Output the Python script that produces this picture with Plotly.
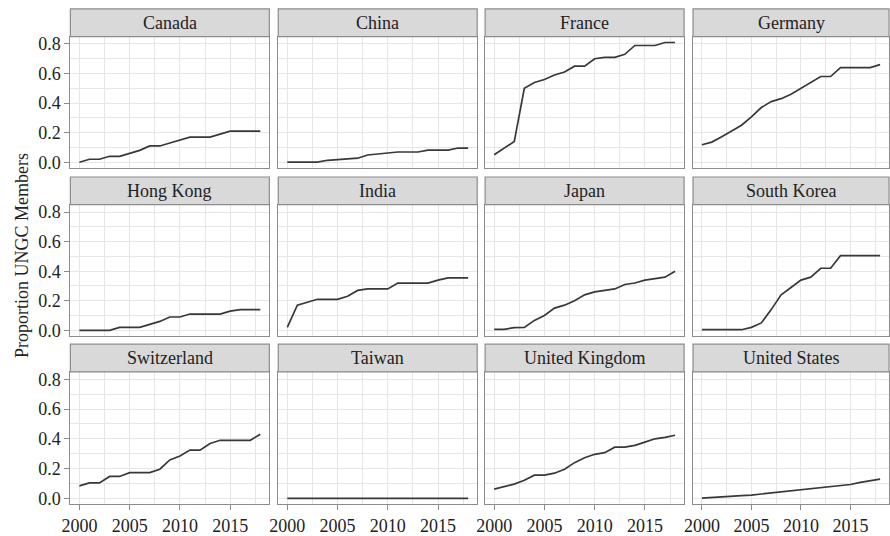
import plotly.graph_objects as go

years = list(range(2000, 2019))
countries = ["Canada", "China", "France", "Germany",
             "Hong Kong", "India", "Japan", "South Korea",
             "Switzerland", "Taiwan", "United Kingdom", "United States"]

canada = [0.0, 0.02, 0.02, 0.04, 0.04, 0.06, 0.08, 0.11, 0.11, 0.13, 0.15, 0.17, 0.17, 0.17, 0.19, 0.21, 0.21, 0.21, 0.21]
china = [0.0, 0.0, 0.0, 0.0, 0.013, 0.018, 0.027, 0.027, 0.049, 0.056, 0.062, 0.069, 0.069, 0.069, 0.082, 0.082, 0.082, 0.096, 0.096]
france = [0.05, 0.096, 0.14, 0.50, 0.54, 0.56, 0.59, 0.61, 0.65, 0.65, 0.70, 0.71, 0.71, 0.73, 0.79, 0.79, 0.79, 0.81, 0.81]
germany = [0.118, 0.136, 0.173, 0.21, 0.25, 0.307, 0.37, 0.41, 0.43, 0.46, 0.50, 0.54, 0.58, 0.58, 0.64, 0.64, 0.64, 0.64, 0.66]
hong_kong = [0.0, 0.0, 0.0, 0.0, 0.02, 0.02, 0.02, 0.04, 0.06, 0.09, 0.09, 0.11, 0.11, 0.11, 0.11, 0.13, 0.14, 0.14, 0.14]
india = [0.02, 0.17, 0.19, 0.21, 0.21, 0.21, 0.23, 0.27, 0.28, 0.28, 0.28, 0.32, 0.32, 0.32, 0.32, 0.34, 0.355, 0.355, 0.355]
japan = [0.007, 0.007, 0.018, 0.02, 0.067, 0.10, 0.15, 0.17, 0.20, 0.24, 0.26, 0.27, 0.28, 0.31, 0.32, 0.34, 0.35, 0.36, 0.40]
south_korea = [0.004, 0.004, 0.004, 0.004, 0.004, 0.02, 0.05, 0.14, 0.24, 0.29, 0.34, 0.36, 0.42, 0.42, 0.505, 0.505, 0.505, 0.505, 0.505]
switzerland = [0.084, 0.104, 0.104, 0.147, 0.147, 0.173, 0.173, 0.173, 0.196, 0.258, 0.284, 0.324, 0.324, 0.369, 0.39, 0.39, 0.39, 0.39, 0.43]
taiwan = [0.0] * 19
united_kingdom = [0.062, 0.08, 0.096, 0.122, 0.156, 0.156, 0.169, 0.196, 0.24, 0.273, 0.296, 0.307, 0.344, 0.344, 0.356, 0.378, 0.40, 0.41, 0.424]
united_states = [0.002, 0.007, 0.009, 0.013, 0.018, 0.022, 0.029, 0.036, 0.044, 0.051, 0.06, 0.067, 0.073, 0.078, 0.084, 0.093, 0.107, 0.12, 0.129]

series = [canada, china, france, germany, hong_kong, india, japan, south_korea,
          switzerland, taiwan, united_kingdom, united_states]

x_ticks = [2000, 2005, 2010, 2015]
y_ticks = [0.0, 0.2, 0.4, 0.6, 0.8]
y_tick_text = ["0.0", "0.2", "0.4", "0.6", "0.8"]

W, H = 890, 536
col_px = [(62, 263), (272, 473), (481, 682), (691, 889)]
row_px = [(35, 168), (205, 338), (374, 508)]
strip_h = 28

FONT = "Liberation Serif, Times New Roman, Times, DejaVu Serif, serif"
border = "#8c8c8c"
grid = "#e6e6e6"
text_col = "#222222"

fig = go.Figure()
layout = {}
shapes = []
annotations = []

for i, (name, vals) in enumerate(zip(countries, series)):
    r, c = divmod(i, 4)
    idx = i + 1
    xk = "xaxis" if idx == 1 else f"xaxis{idx}"
    yk = "yaxis" if idx == 1 else f"yaxis{idx}"
    xr = "x" if idx == 1 else f"x{idx}"
    yr = "y" if idx == 1 else f"y{idx}"
    x0, x1 = col_px[c]
    y0, y1 = row_px[r]
    fig.add_trace(go.Scatter(x=years, y=vals, mode="lines",
                             line=dict(color="#383838", width=1.7),
                             xaxis=xr, yaxis=yr, showlegend=False, hoverinfo="skip"))
    bottom = (r == 2)
    left = (c == 0)
    layout[xk] = dict(domain=[x0 / W, x1 / W], range=[1999.1, 2018.9], anchor=yr,
                      tickvals=x_ticks, showticklabels=bottom,
                      ticks="outside" if bottom else "", ticklen=5, tickcolor=border,
                      tickfont=dict(family=FONT, size=18, color=text_col),
                      showgrid=True, gridcolor=grid, gridwidth=1,
                      minor=dict(showgrid=True, dtick=2.5, tick0=2000, gridcolor=grid, gridwidth=0.6),
                      showline=True, mirror=True, linecolor=border, linewidth=1.2,
                      zeroline=False, fixedrange=True)
    layout[yk] = dict(domain=[1 - y1 / H, 1 - y0 / H], range=[-0.04, 0.85], anchor=xr,
                      tickvals=y_ticks, ticktext=y_tick_text, showticklabels=left,
                      ticks="outside" if left else "", ticklen=5, tickcolor=border,
                      tickfont=dict(family=FONT, size=18, color=text_col),
                      showgrid=True, gridcolor=grid, gridwidth=1,
                      minor=dict(showgrid=True, dtick=0.1, tick0=0, gridcolor=grid, gridwidth=0.6),
                      showline=True, mirror=True, linecolor=border, linewidth=1.2,
                      zeroline=False, fixedrange=True)
    shapes.append(dict(type="rect", xref="paper", yref="paper",
                       x0=x0 / W, x1=x1 / W, y0=1 - y0 / H, y1=1 - (y0 - strip_h) / H,
                       fillcolor="#d9d9d9", line=dict(color=border, width=1.2), layer="above"))
    annotations.append(dict(xref="paper", yref="paper", x=(x0 + x1) / 2 / W,
                            y=1 - (y0 - strip_h / 2) / H, text=name, showarrow=False,
                            xanchor="center", yanchor="middle",
                            font=dict(family=FONT, size=18, color=text_col)))

annotations.append(dict(xref="paper", yref="paper", x=13 / W, y=1 - 256 / H,
                        text="Proportion UNGC Members", textangle=-90, showarrow=False,
                        xanchor="center", yanchor="middle",
                        font=dict(family=FONT, size=18, color=text_col)))

fig.update_layout(width=W, height=H, autosize=False,
                  margin=dict(l=0, r=0, t=0, b=0),
                  paper_bgcolor="white", plot_bgcolor="white",
                  font=dict(family=FONT),
                  shapes=shapes, annotations=annotations, **layout)

fig.write_html("out.html")
